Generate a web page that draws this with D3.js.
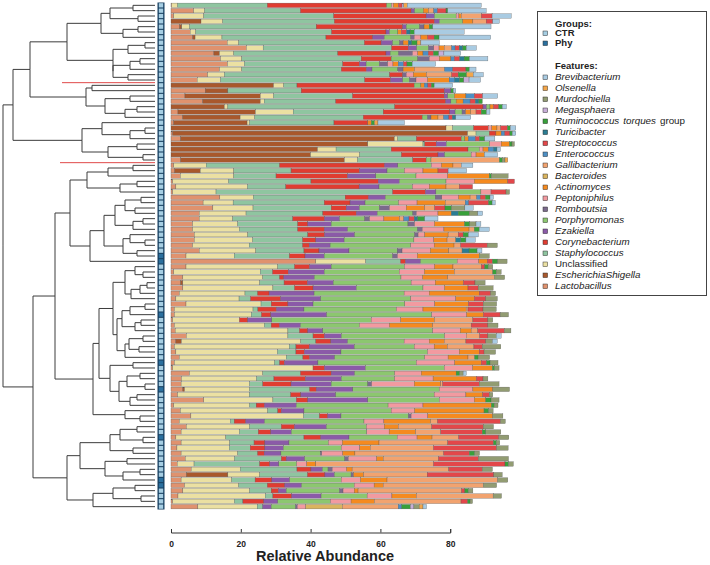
<!DOCTYPE html>
<html>
<head>
<meta charset="utf-8">
<script src="https://cdn.jsdelivr.net/npm/d3@7"></script>
<style>
  body { margin: 0; background: #fff; }
  svg { font-family: "Liberation Sans", Arial, Helvetica, sans-serif; }
</style>
</head>
<body>
<div id="chart"></div>
<script>
// relative abundance (%) per sample, rows in dendrogram order
var Lactobacillus = [0.2,6.5,0.8,0,2.4,5.5,6.2,16.1,21.6,12.3,
  14.2,16.2,13.9,10.5,7.5,0,9.8,4.0,9.1,0,
  2.0,3.3,0.8,0,0.5,2.7,0,0,0,2.7,
  0.8,1.0,2.7,0.5,1.4,0.5,14.0,9.2,12.0,8.1,
  8.1,6.2,6.2,6.7,6.7,6.2,8.1,4.3,41.5,4.3,
  0.8,3.4,2.7,3.4,2.4,1.4,4.3,1.0,1.0,0.5,
  1.0,1.2,4.4,1.4,1.0,1.4,2.4,1.0,0.5,5.3,
  3.0,2.9,3.4,1.9,9.4,0.8,2.7,5.7,2.4,4.4,
  2.9,1.4,2.9,1.7,2.9,4.1,1.8,5.8,4.4,2.9,
  3.9,3.4,2.0,0.5,7.7];
var EscherichiaShigella = [0,0,0,8.6,0.7,0,0.7,0,0,1.6,
  0,0,0,0,0,29.4,6.5,21.6,16.5,15.3,
  22.2,16.5,21.0,78.8,84.5,61.3,56.4,42.0,40.0,47.0,
  0,7.4,0,0,0,0,0,0,0,0,
  0,0,0,0,0,0,0,0,0,0,
  0,0,0.7,0,0,0,0,0,0,0,
  0,0,0,1.6,0,0,0,0,0,0,
  0,0,0.5,0,0,0,0,0,0,0,
  0,0,0,0,0,0,0,0,11.9,0,
  0,0,0,0,0];
var Unclassified = [1.7,3.1,8.6,6.2,2.2,1.6,7.7,3.3,4.8,4.1,
  6.1,4.8,6.4,4.8,6.7,2.9,0,3.8,1.1,1.0,
  10.8,4.2,0.7,1.9,2.4,1.0,15.8,5.3,14.0,3.8,
  9.3,9.6,15.3,16.0,20.5,12.4,9.6,8.6,11.5,13.4,
  9.6,12.9,13.4,15.3,16.7,16.2,16.2,13.8,14.3,26.3,
  24.8,22.9,22.0,25.8,18.8,18.1,21.5,22.5,22.0,19.1,
  25.8,32.3,29.1,34.2,32.9,29.1,30.6,28.7,40.2,21.0,
  21.5,19.6,18.6,20.5,19.8,21.7,25.0,32.3,14.6,18.1,
  16.7,14.3,13.9,15.0,16.2,14.1,4.8,14.1,9.1,14.5,
  15.5,19.1,25.0,17.7,17.0];
var Staphylococcus = [25.7,27.5,37.2,32.0,36.3,38.9,29.8,36.0,36.8,29.8,
  34.2,28.2,28.5,47.3,41.3,3.8,21.0,22.6,20.5,47.8,
  25.8,31.1,24.2,6.0,3.8,5.3,0.5,15.8,12.0,15.8,
  21.0,16.4,12.1,23.6,11.0,50.6,26.3,26.1,22.4,22.0,
  17.2,17.2,16.7,17.2,14.3,15.3,13.8,15.8,10.0,4.8,
  3.5,4.8,7.0,6.2,3.6,3.3,2.9,1.4,2.9,0,
  1.9,3.3,7.2,4.3,1.9,5.3,4.8,1.4,0,10.8,
  5.0,3.8,17.2,11.9,6.7,1.9,2.9,4.5,1.1,9.1,
  5.4,22.4,7.0,6.0,5.7,13.4,18.8,16.2,13.7,6.7,
  8.2,6.2,2.2,2.4,1.6];
var Corynebacterium = [34.2,31.7,26.5,28.7,24.8,15.6,13.4,4.8,4.8,13.8,
  8.6,4.8,7.2,3.8,7.4,33.6,41.0,26.3,31.5,25.3,
  19.1,16.9,9.7,4.2,1.9,12.9,3.3,22.0,10.5,3.8,
  30.1,19.6,20.5,19.3,21.0,9.4,6.7,7.4,4.3,9.6,
  9.1,2.9,7.6,4.8,3.8,1.9,4.3,4.5,1.4,4.3,
  4.5,1.2,6.7,5.3,3.3,8.6,4.8,5.3,2.7,2.4,
  2.4,2.4,3.3,4.3,3.8,2.4,1.9,1.4,3.3,8.8,
  9.0,8.1,1.9,2.9,3.3,2.4,1.0,2.4,3.3,3.8,
  3.6,4.8,3.1,4.2,1.9,1.4,2.9,4.0,5.0,4.8,
  5.0,2.1,5.4,6.0,0];
var Ezakiella = [0,1.0,2.4,1.4,1.0,1.0,3.3,3.3,2.4,1.2,
  0,1.9,1.6,0,3.5,0,1.9,1.0,1.5,1.0,
  1.5,0,0,0,0,0,2.9,0,1.9,0,
  3.8,7.9,8.1,6.0,5.7,3.0,4.8,4.3,3.8,6.0,
  4.3,6.7,6.7,8.6,8.1,6.0,8.6,5.5,4.3,6.2,
  10.3,8.8,7.4,12.4,12.9,11.5,7.2,7.9,16.0,6.9,
  6.0,4.3,4.8,4.8,12.9,10.5,7.2,9.6,11.7,6.7,
  10.3,11.5,10.5,10.0,17.2,9.1,6.5,3.8,5.4,9.1,
  5.9,8.1,6.9,5.3,4.8,5.3,2.6,3.3,2.7,5.1,
  4.8,2.2,8.4,4.0,2.4];
var Porphyromonas = [1.4,2.5,6.2,6.7,3.8,2.4,7.6,2.0,3.4,2.4,
  7.6,3.8,7.4,0,1.9,1.9,0,1.9,1.5,1.0,
  2.0,1.5,0,0,0,1.0,12.4,3.3,7.6,1.4,
  9.6,5.0,11.5,13.4,9.6,12.9,14.3,9.6,5.7,10.2,
  7.2,22.0,20.0,17.2,20.0,23.1,13.8,19.6,10.5,21.0,
  21.5,24.8,22.3,19.1,25.8,25.8,26.3,26.5,30.1,28.5,
  16.9,31.5,29.6,16.2,17.2,24.8,25.8,28.2,22.6,11.5,
  15.3,10.5,24.8,28.2,20.5,26.3,25.0,19.3,28.5,11.5,
  21.6,13.8,11.3,16.6,11.3,11.5,5.1,1.6,4.8,14.8,
  15.1,15.3,13.2,15.1,7.0];
var Romboutsia = [0,0,0,0,1.3,0,1.0,1.0,1.5,4.0,
  3.3,2.4,1.5,1.0,1.9,0,0,0,0,0,
  1.0,1.0,0,0,0,0,0,0,0,0,
  0,0,0,0,0,0,1.9,0,2.9,1.0,
  1.4,1.9,1.4,1.0,0,0,1.4,1.4,0,0,
  0,0,0,0,0,0,0,0,0,0,
  0,0,0,0,0,0,0,0,0,0,
  0,1.1,0,0,0,0,0,0.8,0,0,
  0,0,0,0,0.4,1.0,0,1.2,0.7,0,
  0,1.0,0,0,0.5];
var Peptoniphilus = [0.5,0,0.8,0,0,0,1.9,0,1.5,1.5,
  2.9,1.5,0,2.0,3.3,0,0,0,0,0,
  0,0,0,1.0,0,0,3.3,1.0,1.4,0,
  2.9,5.3,9.1,8.1,4.8,2.9,4.8,5.3,4.8,6.2,
  4.1,5.7,6.2,1.9,5.7,6.7,8.1,5.7,6.2,8.6,
  7.2,6.2,6.9,6.2,7.2,12.9,8.6,7.6,10.0,8.4,
  8.6,7.9,6.2,7.2,5.7,9.1,6.7,11.0,8.1,7.6,
  11.0,12.2,9.6,9.1,10.0,10.0,6.7,4.8,5.7,5.1,
  6.4,5.7,4.0,5.3,6.0,8.1,2.9,4.1,0,5.5,
  5.7,3.2,7.1,5.9,2.4];
var Actinomyces = [1.5,1.5,0.7,2.9,1.5,1.0,1.9,1.5,1.5,1.5,
  3.3,1.5,3.3,3.8,6.2,1.0,0,3.3,2.0,1.0,
  1.5,2.0,1.0,1.5,1.5,1.0,2.4,1.5,2.4,0,
  3.3,4.3,11.9,9.6,4.8,0,3.3,8.1,5.3,3.8,
  4.5,8.6,7.2,6.7,3.8,5.7,5.3,17.7,2.4,5.3,
  8.6,7.2,8.1,6.7,14.3,5.3,9.6,12.4,4.8,9.7,
  12.4,3.1,0,4.3,3.8,5.7,5.7,7.6,5.7,10.0,
  12.4,7.6,5.7,4.8,3.3,19.6,19.9,18.6,13.4,4.0,
  7.6,4.3,10.5,3.0,3.5,1.9,2.6,1.6,2.9,7.6,
  2.6,1.1,7.0,6.7,0];
var Bacteroides = [0,0,0,0,0,0,0,0,0,0,
  0,0,0,0,0,0,0,0,0,0,
  0,0,0,0,0,0,0,0,0,0,
  0,0,0,0,0,0,0,0,0,0,
  0,0,0,0,0,0,0,0,0,0,
  0,0,0,0,0,0,0,0,0,0,
  0,0,0,0,0,0,0,0,0,0,
  0,0,0,0,0,0,0,0,0,0,
  0,0,0,0,0,0,0,0,0,0,
  0,0,0,0,10.5];
var Gallibacterium = [0,1.5,5.7,3.8,0,0,0,0,2.1,0,
  0,0,8.6,7.2,0,0,0,0,0,0,
  1.5,1.6,0,1.0,0,0,0,0,0,19.6,
  2.4,0,0,0,3.8,0,1.9,5.7,2.9,0,
  1.2,0,1.5,2.9,2.5,1.9,3.8,0,0,8.1,
  11.0,13.4,0,0,0,0,0,0.5,0,11.0,
  11.0,1.9,3.8,6.2,7.6,0,1.9,0,0,0,
  0,0.5,0,0,0,0,0,0,1.9,9.6,
  7.2,7.6,19.7,18.1,25.4,15.8,33.7,27.7,18.2,31.7,
  28.7,29.6,22.0,24.8,16.0];
var Enterococcus = [0,1.0,0,0,0,0,0,0,1.0,1.5,
  1.0,1.5,2.3,0,1.5,1.0,0,2.4,2.0,0,
  0,1.5,0,0,1.0,2.0,0,1.5,0,0,
  0,0,0,0,0,0,1.0,1.0,0,0,
  1.5,0,0,0,0,0,0,0,0,0,
  0,0,0,0,0,0,0,0,0,0,
  0,0,0,0,0,0,0,0,0,0,
  0,0,0,0,0,0,0,0,0,0,
  0,0,0,0,0,0,0,0,0,0,
  0,0,0,0,1.0];
var Streptococcus = [1.0,2.5,3.1,1.9,0,1.5,1.9,0,1.2,1.5,
  1.5,1.0,3.8,1.9,0,1.0,0,2.4,1.5,1.5,
  1.5,1.0,0,2.0,1.5,1.2,0,0,0,0,
  0,2.9,0,1.9,3.8,4.3,1.5,5.7,2.9,0,
  1.5,0,0,1.4,0,7.6,0,0,1.5,1.0,
  0,0,3.3,2.9,3.3,3.3,4.3,4.3,4.8,4.3,
  4.8,7.6,2.4,5.7,2.4,1.4,0,1.5,0,0,
  1.9,10.5,0,1.9,0,0,0,0,18.1,14.8,
  11.9,11.5,13.1,18.1,7.4,11.5,20.5,9.6,19.1,0,
  0,1.0,0,1.9,0];
var Turicibacter = [0,0,0,0,0,1.0,0,1.0,1.0,0,
  1.3,0,0,0,1.5,0,0,0,1.0,0,
  0,1.0,0,0,0,0,0,1.0,0,0,
  0,0,0,0,0,0,0,0,0,2.0,
  1.0,0,0,0,1.4,0,2.0,0,0,0,
  0,0,0,0,0,0,0,0,0,0,
  0,0,0,0,0,0,0,0,0,0,
  0,0,0,0,0,0,0,0,0,0,
  0,0,0,0,0,0,0,0,0,0,
  0,0,0,0,0];
var Ruminococcus = [0,0.5,0,0,1.0,1.2,1.4,1.5,1.0,1.5,
  1.5,1.5,1.0,2.4,1.2,0.8,0.7,0,1.0,1.0,
  1.5,0,0.9,0.8,0.7,1.5,0.7,0,0,0.8,
  0,0,0.6,0,0,0,1.3,1.0,1.9,3.2,
  2.0,1.5,1.4,1.5,1.5,0,2.3,0,1.5,1.0,
  1.0,0,0,0,0,0,0,0,0,0,
  0,0,0,0,0,0,1.0,1.0,0.6,1.0,
  0,0,0,0,1.5,0.8,1.3,0,0,0,
  1.0,0,0.8,0,1.5,0,1.0,0,0,0,
  0,1.0,0,0.7,2.5];
var Megasphaera = [0.5,0,0,0,0,0,0,0,0,1.5,
  0,0,0,0,1.5,0,0,0,0,0,
  0,0,0,0,0,0,0,0,0,0,
  0,0,0,0,0,0,0,0,0,0,
  0,0,0,0,0,0,0,0,0,0,
  0,0,0,0,0,0,0,0,0,0,
  0,0,0,0,0,0,0,0,0,0,
  0,0,0,0,0,0,0,0,0,0,
  0,0,0,0,0,0,0,0,0,0,
  0,0,0,0,1.0];
var Murdochiella = [0,0,0,0,0,0,0,0,0,0,
  0,0,0,0,0,0,0,0,0,0,
  0,0,0,0,0,0,0.7,0,0,0.8,
  0,0,4.8,0,0,1.0,0,0,3.8,2.4,
  0,1.8,0,0,0,2.9,0,2.9,2.7,1.3,
  1.4,2.9,2.9,4.3,1.4,3.3,3.8,3.8,2.4,1.4,
  2.9,1.9,2.4,1.9,5.3,3.3,3.3,2.3,1.3,1.0,
  1.4,5.7,4.8,1.0,2.3,1.1,1.3,2.9,1.4,2.9,
  4.3,2.9,1.0,3.3,1.4,8.6,1.4,2.9,2.4,2.9,
  3.8,1.3,2.4,0.7,1.5];
var Olsenella = [1.0,0,0,0,0,0,0,1.1,0,0,
  0,0,0,1.9,0,0,0,0,0,0,
  0,0,1.0,0,0,0,0,0,0,0.8,
  0,0,0,0,0,0,0,0,0,0,
  0,0,0,0,0,0,0,0,0,0,
  0,0,0,0,0,0,0,0,0,0,
  0,0,0,0,0,0,0,0,0,0,
  0,0,0,0,0,0,0,0,0,0,
  0,0,0,0,0,0,0,0,0,0,
  0,0,0,0,1.1];
var Brevibacterium = [21.2,11.0,5.5,1.9,16.7,14.3,14.8,5.3,2.9,4.8,
  5.3,6.7,1.9,2.9,3.3,5.3,0.7,4.3,0,1.2,
  1.0,4.3,7.6,1.6,1.0,2.9,0,1.0,3.8,0,
  3.3,5.3,0,0,0,0,1.0,0.9,2.4,1.4,
  3.8,1.4,2.9,2.9,2.7,0,1.4,0,0,0,
  0,0,0,0,0,0,0,0,0,0,
  0,0,1.4,1.4,0,0,0,0,0,0.9,
  0,0,0,0,0,0,0,0,0,0,
  0,0,0,0,0,0,0,0,0,0,
  0,0,0,0,1.0];

// sample group, same row order
var groups = ["CTR","CTR","CTR","CTR","CTR","CTR","CTR","CTR","CTR","CTR",
  "CTR","CTR","CTR","CTR","CTR","CTR","CTR","CTR","CTR","CTR",
  "CTR","CTR","CTR","CTR","CTR","CTR","CTR","CTR","CTR","CTR",
  "CTR","CTR","CTR","CTR","CTR","CTR","CTR","CTR","CTR","CTR",
  "CTR","CTR","CTR","CTR","CTR","CTR","CTR","Phy","Phy","CTR",
  "CTR","CTR","CTR","CTR","CTR","CTR","CTR","CTR","Phy","CTR",
  "CTR","CTR","CTR","CTR","CTR","CTR","CTR","Phy","CTR","CTR",
  "CTR","CTR","Phy","CTR","CTR","CTR","CTR","CTR","CTR","CTR",
  "CTR","Phy","CTR","CTR","CTR","CTR","CTR","CTR","CTR","Phy",
  "Phy","CTR","CTR","CTR","CTR"];

// dendrogram: merge height between neighbouring leaves
var mergeHeights = [22,45,17,54,17,32,88,10,27,42,
  15,25,42,27,125,63,69,25,50,18,
  30,142,53,10,25,73,18,47,12,152,
  22,47,68,18,35,85,14,30,20,40,
  12,22,51,25,10,32,18,65,100,20,
  12,30,8,15,24,42,10,25,33,14,
  20,38,12,26,16,30,56,22,45,15,
  28,10,36,18,25,62,30,15,122,18,
  35,12,45,22,75,28,50,15,32,88,
  20,42,14,62];
// red cut marks: leaf gap and height where they start
var redCuts = [{ after: 14, height: 93 }, { after: 29, height: 95 }];

var features = ["Lactobacillus","EscherichiaShigella","Unclassified","Staphylococcus",
  "Corynebacterium","Ezakiella","Porphyromonas","Romboutsia","Peptoniphilus","Actinomyces",
  "Bacteroides","Gallibacterium","Enterococcus","Streptococcus","Turicibacter",
  "Ruminococcus torques group","Megasphaera","Murdochiella","Olsenella","Brevibacterium"];
var series = [Lactobacillus, EscherichiaShigella, Unclassified, Staphylococcus,
  Corynebacterium, Ezakiella, Porphyromonas, Romboutsia, Peptoniphilus, Actinomyces,
  Bacteroides, Gallibacterium, Enterococcus, Streptococcus, Turicibacter,
  Ruminococcus, Megasphaera, Murdochiella, Olsenella, Brevibacterium];
var colors = ["#e0926e","#a9582c","#ebe0a2","#8fc5a0",
  "#e03c31","#8b5aa8","#8cc76f","#7b6a8c","#f29aa0","#f58a1f",
  "#dab45e","#f2a36f","#4d8fc4","#e3474a","#2a7d93",
  "#38a03a","#c7aed8","#929c72","#f3a64a","#a9cbe2"];
var groupNames = ["CTR", "Phy"];
var groupColors = ["#a6cee3", "#2a6f9e"];
var xTicks = [0, 20, 40, 60, 80];

var width = 710, height = 565;
var svg = d3.select("#chart").append("svg")
  .attr("width", width)
  .attr("height", height);

var n = groups.length;
var y = d3.scaleBand().domain(d3.range(n)).range([2.67, 509.33])
  .paddingInner(0.16).paddingOuter(0.08);
var x = d3.scaleLinear().domain([0, 100]).range([171, 520]);
var color = d3.scaleOrdinal().domain(features).range(colors);
var gColor = d3.scaleOrdinal().domain(groupNames).range(groupColors);

// ---- dendrogram
function build(lo, hi) {
  if (lo === hi) return { leaf: lo, h: 0 };
  var k = lo;
  for (var i = lo; i < hi; i++) if (mergeHeights[i] > mergeHeights[k]) k = i;
  return { h: mergeHeights[k], kids: [build(lo, k), build(k + 1, hi)] };
}
var root = d3.hierarchy(build(0, n - 1), d => d.kids);
var hx = d3.scaleLinear().domain([0, d3.max(mergeHeights)]).range([155, 3]);
root.eachAfter(function(d) {
  d.px = hx(d.data.h);
  d.py = d.children
    ? (d.children[0].py + d.children[1].py) / 2
    : y(d.data.leaf) + y.bandwidth() / 2;
});

var tree = svg.append("g");
tree.selectAll("path")
  .data(root.links())
  .enter()
  .append("path")
  .attr("d", d => "M" + d.source.px + "," + d.source.py + "V" + d.target.py + "H" + d.target.px)
  .attr("fill", "none")
  .attr("stroke", "#3c3c3c")
  .attr("stroke-width", 1);

tree.selectAll("line.cut")
  .data(redCuts)
  .enter()
  .append("line")
  .attr("class", "cut")
  .attr("x1", d => hx(d.height))
  .attr("x2", hx(0))
  .attr("y1", d => (y(d.after) + y.bandwidth() + y(d.after + 1)) / 2)
  .attr("y2", d => (y(d.after) + y.bandwidth() + y(d.after + 1)) / 2)
  .attr("stroke", "#e04a4a")
  .attr("stroke-width", 1);

// ---- group column
svg.append("rect")
  .attr("x", 157.5)
  .attr("y", y(0) - 0.6)
  .attr("width", 7)
  .attr("height", y(n - 1) + y.bandwidth() - y(0) + 1.2)
  .attr("fill", "#173f60");
svg.append("g").selectAll("rect")
  .data(groups)
  .enter()
  .append("rect")
  .attr("x", 158.8)
  .attr("y", (d, i) => y(i) + 0.1)
  .attr("width", 4.4)
  .attr("height", y.bandwidth() - 0.2)
  .attr("fill", d => gColor(d));

// ---- stacked bars
var table = d3.range(n).map(function(i) {
  var r = {};
  features.forEach(function(f, j) { r[f] = series[j][i]; });
  return r;
});
var stacked = d3.stack().keys(features)(table);

var bars = svg.append("g");
bars.selectAll("g")
  .data(stacked)
  .enter()
  .append("g")
  .attr("fill", d => color(d.key))
  .selectAll("rect")
  .data(d => d.map((v, i) => ({ v: v, i: i })).filter(e => e.v[1] > e.v[0]))
  .enter()
  .append("rect")
  .attr("x", e => x(e.v[0]))
  .attr("y", e => y(e.i))
  .attr("width", e => x(e.v[1]) - x(e.v[0]))
  .attr("height", y.bandwidth())
  .attr("stroke", "#555")
  .attr("stroke-width", 0.3);

// ---- axis
var xa = d3.scaleLinear().domain([0, 80]).range([x(0), x(80)]);
var axis = svg.append("g")
  .attr("transform", "translate(0,532.5)")
  .call(d3.axisBottom(xa).tickValues(xTicks).tickSize(-3.5).tickPadding(8));
axis.selectAll("path, line").attr("stroke", "#333");
axis.selectAll("text")
  .attr("fill", "#222")
  .attr("font-size", 8.5)
  .attr("font-weight", "bold")
  .attr("font-family", "Liberation Sans, Arial, sans-serif");

svg.append("text")
  .attr("x", 325)
  .attr("y", 561)
  .attr("text-anchor", "middle")
  .attr("font-size", 14.5)
  .attr("font-weight", "bold")
  .attr("fill", "#222")
  .text("Relative Abundance");

// ---- legend
var lg = svg.append("g");
lg.append("rect")
  .attr("x", 537.5).attr("y", 11.5)
  .attr("width", 169).attr("height", 284)
  .attr("fill", "#fff").attr("stroke", "#444").attr("stroke-width", 1);

lg.append("text").attr("x", 555).attr("y", 26.5)
  .attr("font-size", 9.5).attr("font-weight", "bold").attr("fill", "#222")
  .text("Groups:");
var gItems = lg.selectAll("g.grp")
  .data(groupNames)
  .enter()
  .append("g")
  .attr("class", "grp")
  .attr("transform", (d, i) => "translate(0," + (36 + i * 10) + ")");
gItems.append("rect")
  .attr("x", 543).attr("y", -5).attr("width", 4.6).attr("height", 4.6)
  .attr("fill", d => gColor(d)).attr("stroke", "#333").attr("stroke-width", 0.5);
gItems.append("text")
  .attr("x", 555).attr("font-size", 9.5).attr("font-weight", "bold").attr("fill", "#222")
  .text(d => d);

lg.append("text").attr("x", 555).attr("y", 68.5)
  .attr("font-size", 9.5).attr("font-weight", "bold").attr("fill", "#222")
  .text("Features:");
var fItems = lg.selectAll("g.feat")
  .data(features.slice().reverse())
  .enter()
  .append("g")
  .attr("class", "feat")
  .attr("transform", (d, i) => "translate(0," + (80 + i * 11) + ")");
fItems.append("rect")
  .attr("x", 543).attr("y", -5).attr("width", 4.6).attr("height", 4.6)
  .attr("fill", d => color(d)).attr("stroke", "#333").attr("stroke-width", 0.5);
fItems.append("text")
  .attr("x", 555).attr("font-size", 9.8).attr("fill", "#222")
  .each(function(d) {
    var t = d3.select(this);
    if (d === "Unclassified") { t.text(d); return; }
    var words = d.split(" ");
    words.forEach(function(w, k) {
      t.append("tspan")
        .attr("dx", k ? 4 : 0)
        .attr("font-style", w === "group" ? "normal" : "italic")
        .text(w);
    });
  });
</script>
</body>
</html>
